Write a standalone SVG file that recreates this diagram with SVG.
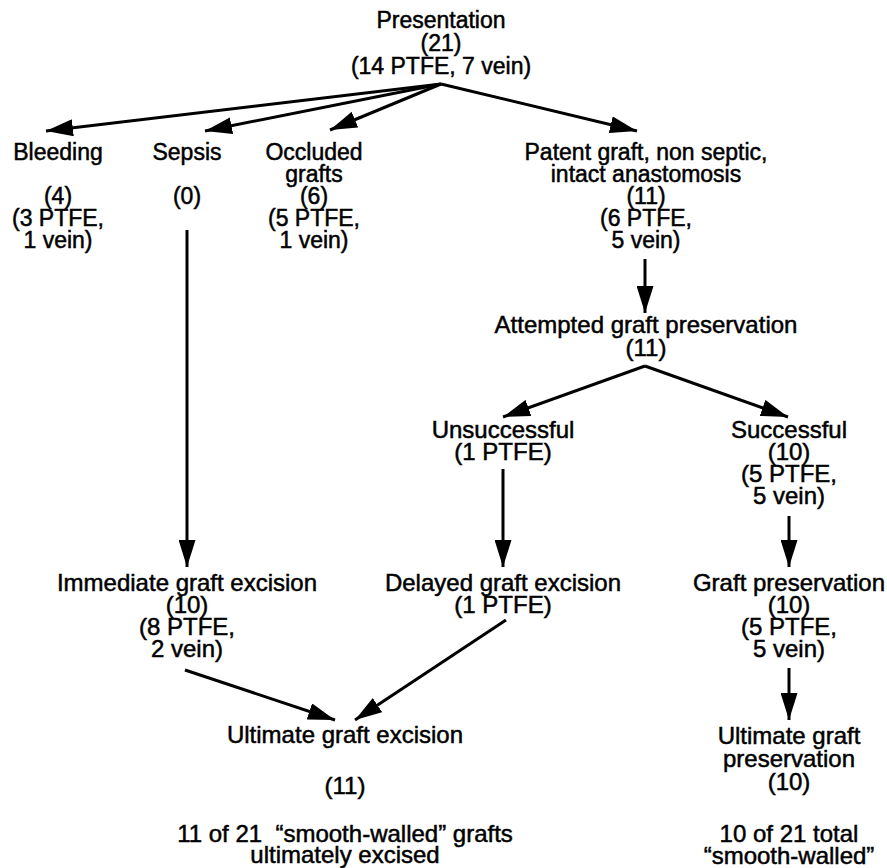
<svg xmlns="http://www.w3.org/2000/svg" width="887" height="868" viewBox="0 0 887 868">
<defs>
<style>
text{font-family:"Liberation Sans",Arial,Helvetica,sans-serif;font-size:24px;fill:#000;stroke:#000;stroke-width:0.5;text-anchor:middle}
.t text{font-size:23px}
.c line{stroke:#000;stroke-width:3;marker-end:url(#ah)}
</style>
<marker id="ah" markerUnits="userSpaceOnUse" markerWidth="27" markerHeight="17" refX="27" refY="8.5" orient="auto">
<path d="M0,0 L27,8.5 L0,17 Z" fill="#000"/>
</marker>
</defs>
<rect width="887" height="868" fill="#fff"/>
<g class="c" id="connectors">
<line x1="441" y1="84" x2="46" y2="131"/>
<line x1="441" y1="84" x2="205" y2="131"/>
<line x1="441" y1="84" x2="330" y2="130"/>
<line x1="441" y1="84" x2="637" y2="131"/>
<line x1="645" y1="259" x2="645" y2="313"/>
<line x1="645" y1="366" x2="503" y2="417"/>
<line x1="645" y1="366" x2="788" y2="417"/>
<line x1="187" y1="230" x2="187" y2="567"/>
<line x1="503" y1="469" x2="503" y2="567"/>
<line x1="789" y1="516" x2="789" y2="567"/>
<line x1="185" y1="670" x2="335" y2="720"/>
<line x1="506" y1="620" x2="355" y2="720"/>
<line x1="789" y1="668" x2="789" y2="720"/>
</g>
<g class="t" id="presentation"><text x="441" y="28">Presentation</text><text x="441" y="51">(21)</text><text x="441" y="74">(14 PTFE, 7 vein)</text></g>
<g class="t" id="bleeding"><text x="58" y="160">Bleeding</text><text x="58" y="204">(4)</text><text x="58" y="226">(3 PTFE,</text><text x="58" y="248">1 vein)</text></g>
<g class="t" id="sepsis"><text x="187" y="160">Sepsis</text><text x="187" y="204">(0)</text></g>
<g class="t" id="occluded"><text x="314" y="160">Occluded</text><text x="314" y="182">grafts</text><text x="314" y="204">(6)</text><text x="314" y="226">(5 PTFE,</text><text x="314" y="248">1 vein)</text></g>
<g class="t" id="patent"><text x="646" y="160">Patent graft, non septic,</text><text x="646" y="182">intact anastomosis</text><text x="646" y="204">(11)</text><text x="646" y="226">(6 PTFE,</text><text x="646" y="248">5 vein)</text></g>
<g id="attempted"><text x="646" y="333">Attempted graft preservation</text><text x="646" y="356">(11)</text></g>
<g id="unsuccessful"><text x="503" y="438">Unsuccessful</text><text x="503" y="460">(1 PTFE)</text></g>
<g id="successful"><text x="789" y="438">Successful</text><text x="789" y="460">(10)</text><text x="789" y="482">(5 PTFE,</text><text x="789" y="504">5 vein)</text></g>
<g id="immediate"><text x="187" y="591">Immediate graft excision</text><text x="187" y="613">(10)</text><text x="187" y="635">(8 PTFE,</text><text x="187" y="657">2 vein)</text></g>
<g id="delayed"><text x="503" y="591">Delayed graft excision</text><text x="503" y="613">(1 PTFE)</text></g>
<g id="graftpres"><text x="789" y="591">Graft preservation</text><text x="789" y="613">(10)</text><text x="789" y="635">(5 PTFE,</text><text x="789" y="657">5 vein)</text></g>
<g id="ultexcision"><text x="345" y="743">Ultimate graft excision</text><text x="345" y="794">(11)</text><text x="345" y="842" xml:space="preserve">11 of 21  “smooth-walled” grafts</text><text x="345" y="863">ultimately excised</text></g>
<g id="ultpres"><text x="789" y="744">Ultimate graft</text><text x="789" y="767">preservation</text><text x="789" y="790">(10)</text><text x="789" y="842">10 of 21 total</text><text x="789" y="864">“smooth-walled”</text></g>
</svg>
